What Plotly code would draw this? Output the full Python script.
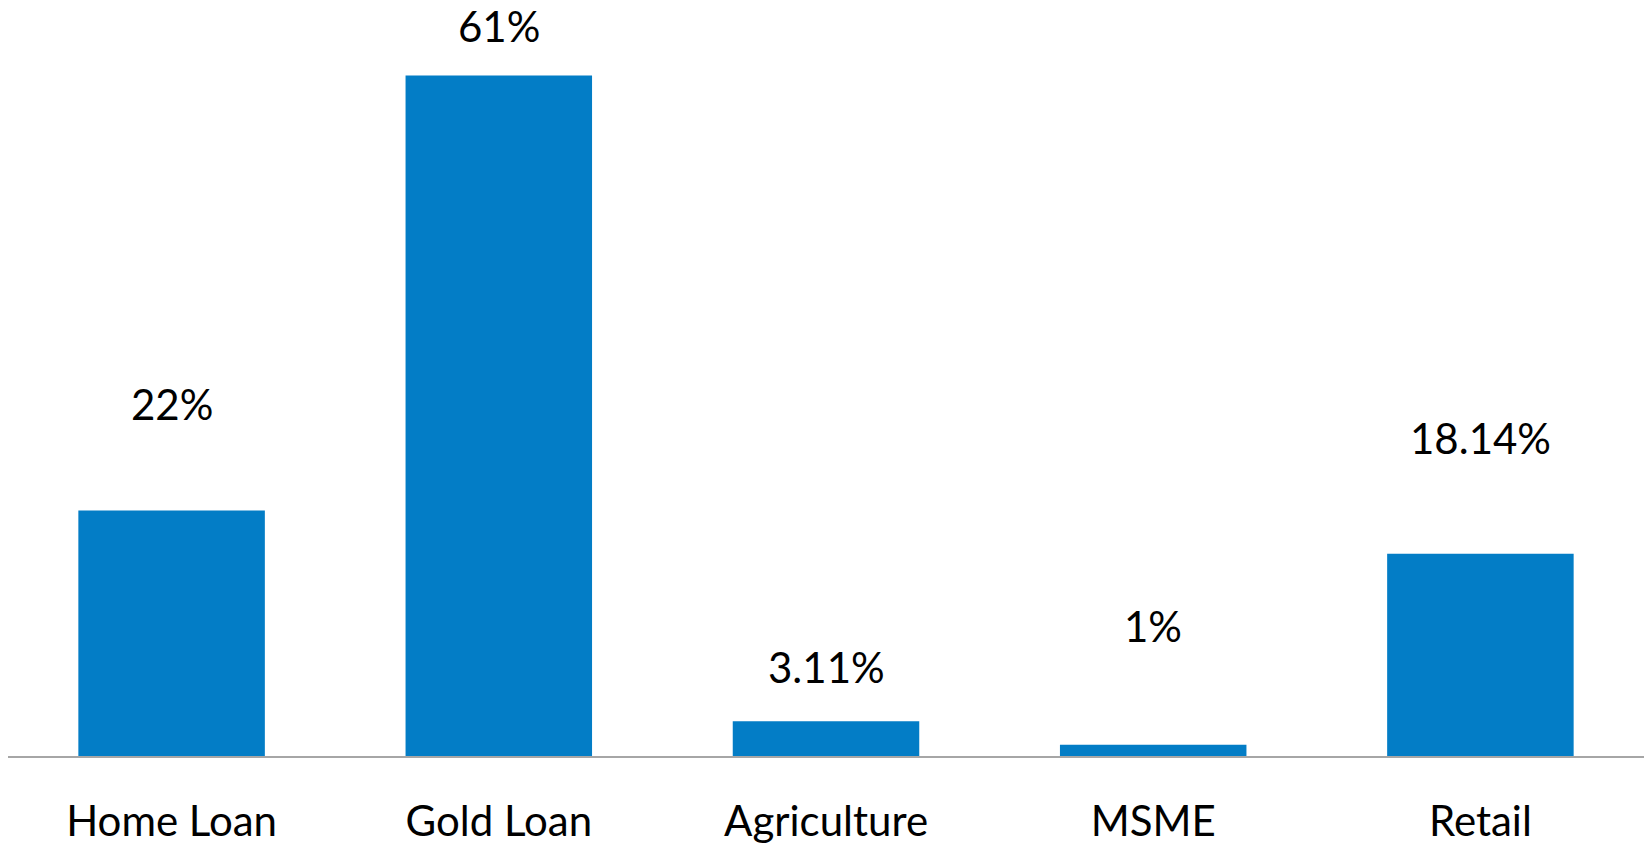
import plotly.graph_objects as go

# Loan portfolio mix by segment
categories = ["Home Loan", "Gold Loan", "Agriculture", "MSME", "Retail"]
share_pct = [22, 61, 3.11, 1, 18.14]

label_text = [f"{v:g}%" for v in share_pct]
# vertical lift (px) of each value label above its bar top
label_lift = [107, 50, 54, 119, 116]

BAR_BLUE = "#037DC6"
FONT = "Lato, 'Open Sans', sans-serif"

fig = go.Figure(
    go.Bar(
        x=categories,
        y=share_pct,
        marker=dict(color=BAR_BLUE, line=dict(width=0)),
        hoverinfo="skip",
    )
)

for cat, val, txt, lift in zip(categories, share_pct, label_text, label_lift):
    fig.add_annotation(
        x=cat, y=val, text=txt, showarrow=False,
        yanchor="middle", yshift=lift,
        font=dict(family=FONT, size=42, color="#000000"),
    )

fig.update_layout(
    width=1644, height=845,
    margin=dict(l=8, r=0, t=0, b=86),
    paper_bgcolor="white", plot_bgcolor="white",
    bargap=0.43,
    showlegend=False,
    font=dict(family=FONT, size=42, color="#000000"),
    xaxis=dict(
        showline=True, linecolor="#A6A6A6", linewidth=2,
        ticks="", showgrid=False, zeroline=False,
        ticklabelstandoff=28,
        tickfont=dict(family=FONT, size=42, color="#000000"),
    ),
    yaxis=dict(
        range=[0, 67.77], visible=False, showgrid=False, zeroline=False,
    ),
)

fig.write_html("out.html")
